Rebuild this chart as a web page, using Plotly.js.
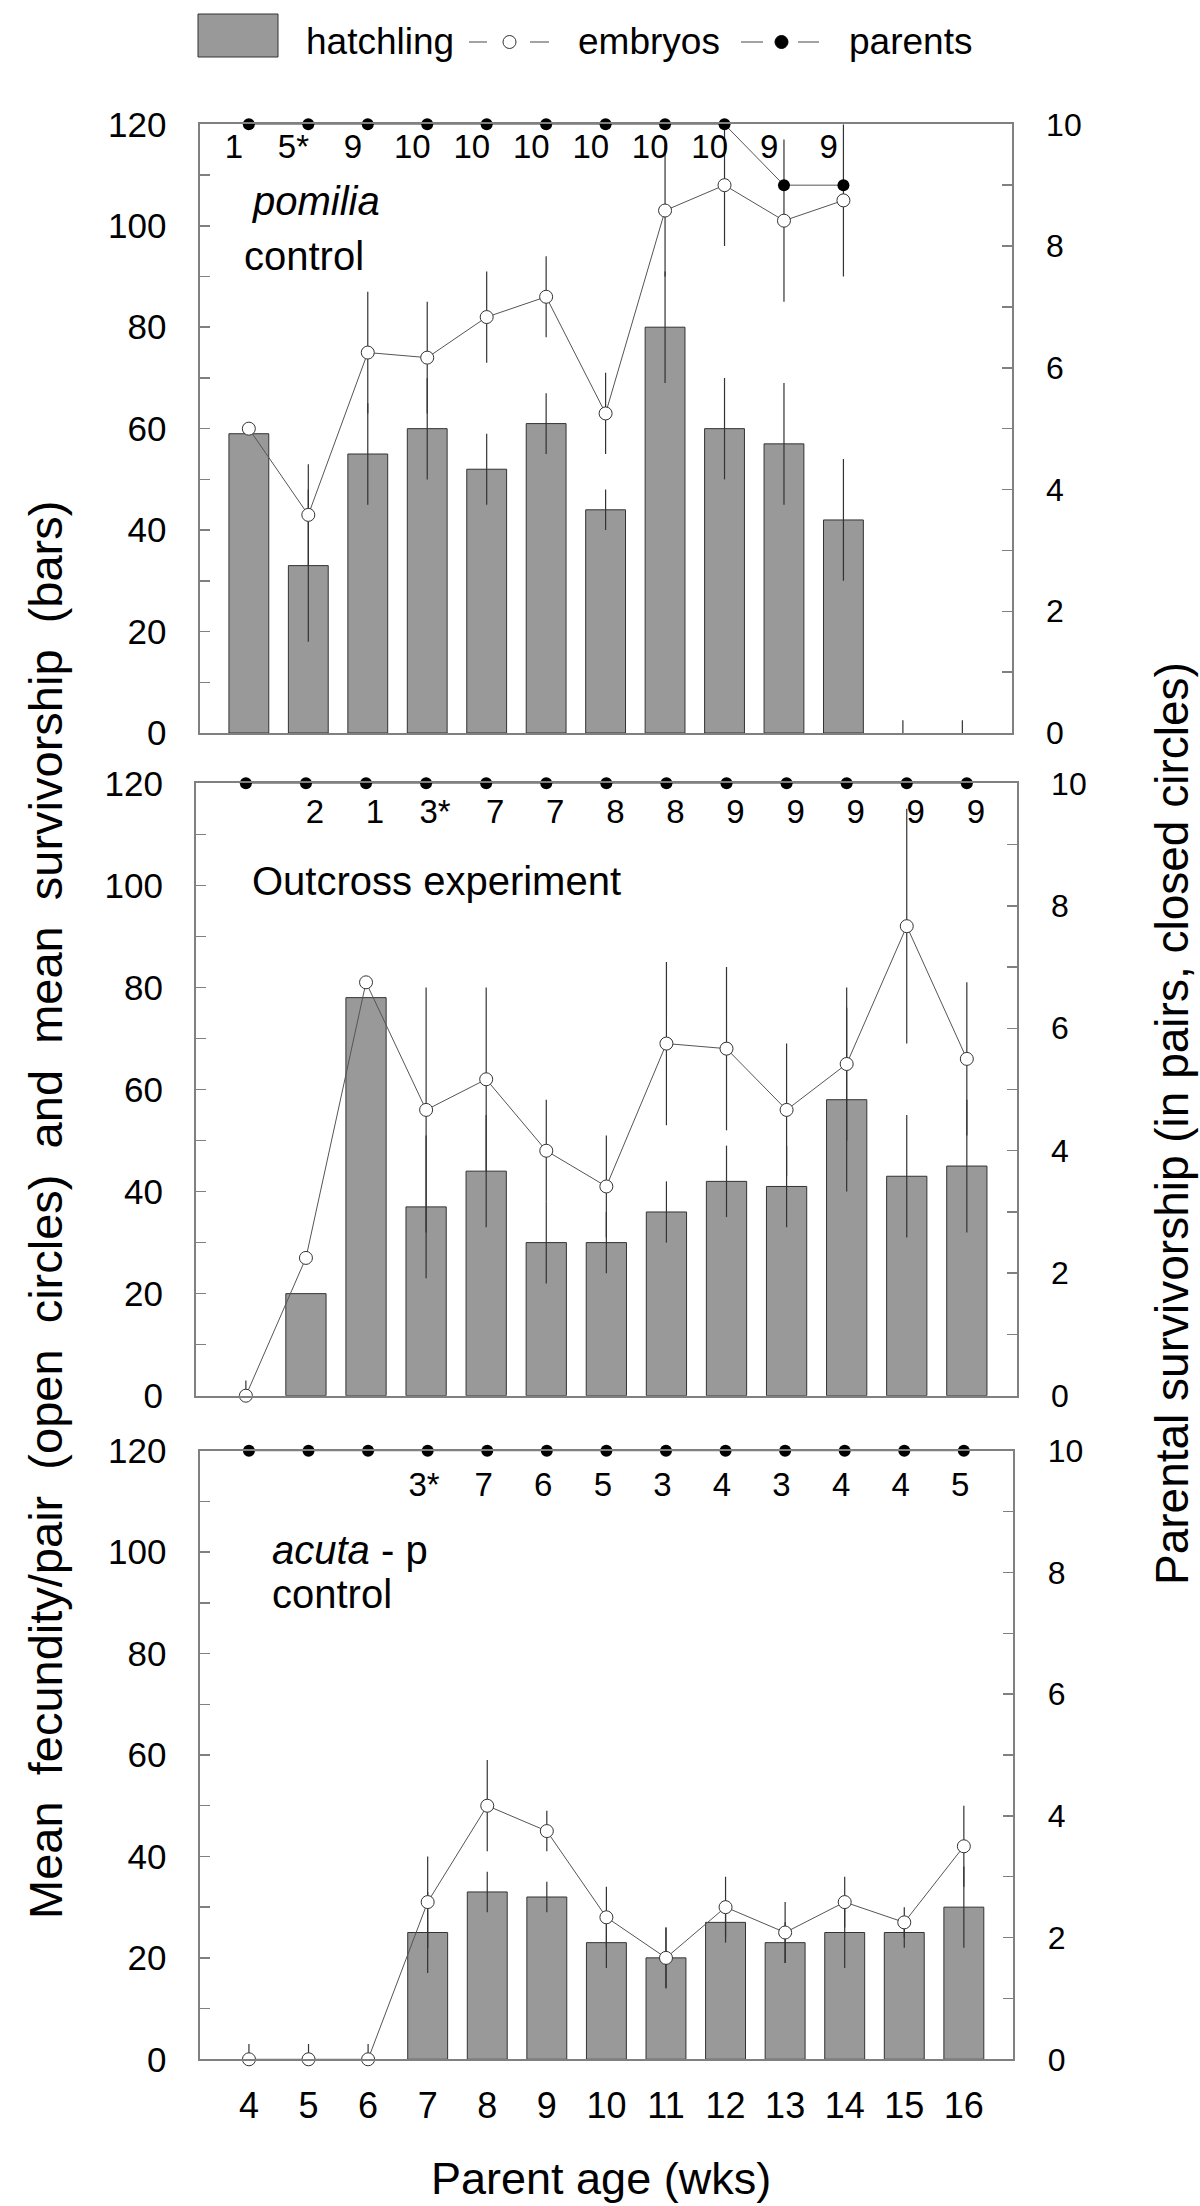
<!DOCTYPE html>
<html>
<head>
<meta charset="utf-8">
<script src="https://cdn.plot.ly/plotly-3.0.1.min.js"></script>
<style>html,body{margin:0;padding:0;background:#fff;}#chart{width:1200px;height:2206px;}</style>
</head>
<body>
<div id="chart"></div>
<script>
// ---------- DATA ----------
const weeks = [4, 5, 6, 7, 8, 9, 10, 11, 12, 13, 14, 15, 16];

// Panel 1: pomilia control
const p1Hatch      = [59, 33, 55, 60, 52, 61, 44, 80, 60, 57, 42, 0, 0];
const p1HatchErr   = [0, 15, 10, 10, 7, 6, 4, 11, 10, 12, 12, 2.5, 2.5];
const p1Embryo     = [60, 43, 75, 74, 82, 86, 63, 103, 108, 101, 105, null, null];
const p1EmbryoErr  = [0, 10, 12, 11, 9, 8, 8, 13, 12, 16, 15, null, null];
const p1Parents    = [10, 10, 10, 10, 10, 10, 10, 10, 10, 9, 9, null, null];
const p1ParentLbl  = ['1', '5*', '9', '10', '10', '10', '10', '10', '10', '9', '9', '', ''];

// Panel 2: Outcross experiment
const p2Hatch      = [null, 20, 78, 37, 44, 30, 30, 36, 42, 41, 58, 43, 45];
const p2HatchErr   = [0, 0, 0, 14, 11, 8, 6, 6, 7, 8, 18, 12, 13];
const p2Embryo     = [0, 27, 81, 56, 62, 48, 41, 69, 68, 56, 65, 92, 66];
const p2EmbryoErr  = [3, 0, 0, 24, 18, 10, 10, 16, 16, 13, 15, 23, 15];
const p2Parents    = [10, 10, 10, 10, 10, 10, 10, 10, 10, 10, 10, 10, 10];
const p2ParentLbl  = ['', '2', '1', '3*', '7', '7', '8', '8', '9', '9', '9', '9', '9'];

// Panel 3: acuta - p control
const p3Hatch      = [null, null, null, 25, 33, 32, 23, 20, 27, 23, 25, 25, 30];
const p3HatchErr   = [0, 0, 0, 8, 4, 3, 5, 6, 4, 4, 7, 3, 8];
const p3Embryo     = [0, 0, 0, 31, 50, 45, 28, 20, 30, 25, 31, 27, 42];
const p3EmbryoErr  = [3, 3, 3, 9, 9, 4, 6, 6, 6, 6, 5, 3, 8];
const p3Parents    = [10, 10, 10, 10, 10, 10, 10, 10, 10, 10, 10, 10, 10];
const p3ParentLbl  = ['', '', '', '3*', '7', '6', '5', '3', '4', '3', '4', '4', '5'];

const yTickVals = [0, 20, 40, 60, 80, 100, 120];
const y2TickVals = [0, 2, 4, 6, 8, 10];

// ---------- STYLE / LAYOUT ----------
const W = 1200, H = 2206;
const FONT = 'Liberation Sans, Arial, sans-serif';
const AX = '#808080';
const px = x => x / W;
const py = y => 1 - y / H;

const panels = [
  {hatch: p1Hatch, herr: p1HatchErr, emb: p1Embryo, eerr: p1EmbryoErr, par: p1Parents, lbl: p1ParentLbl,
   xl: 199.5, xr: 1011.7, yt: 124.3, yb: 733, lblY: 114.9, lblDx: -0.25},
  {hatch: p2Hatch, herr: p2HatchErr, emb: p2Embryo, eerr: p2EmbryoErr, par: p2Parents, lbl: p2ParentLbl,
   xl: 196, xr: 1016.7, yt: 783.3, yb: 1395.7, lblY: 113.9, lblDx: 0.15},
  {hatch: p3Hatch, herr: p3HatchErr, emb: p3Embryo, eerr: p3EmbryoErr, par: p3Parents, lbl: p3ParentLbl,
   xl: 199.5, xr: 1013.3, yt: 1450.7, yb: 2059.3, lblY: 112.7, lblDx: -0.06}
];

const traces = [];
const layout = {
  width: W, height: H, autosize: false,
  margin: {l: 0, r: 0, t: 0, b: 0},
  paper_bgcolor: '#fff', plot_bgcolor: 'rgba(0,0,0,0)',
  showlegend: false,
  font: {family: FONT, color: '#000'},
  shapes: [], annotations: []
};

const minusOf = (vals, errs) => errs.map((e, i) => (vals[i] == null ? 0 : Math.min(e || 0, vals[i])));

panels.forEach((p, i) => {
  const xn = i === 0 ? 'x' : 'x' + (i + 1);
  const yl = 'y' + (i === 0 ? '' : (2 * i + 1));
  const yr = 'y' + (2 * i + 2);
  const xKey = i === 0 ? 'xaxis' : 'xaxis' + (i + 1);
  const ylKey = i === 0 ? 'yaxis' : 'yaxis' + (2 * i + 1);
  const yrKey = 'yaxis' + (2 * i + 2);
  const ylName = i === 0 ? 'y' : 'y' + (2 * i + 1);
  const dom = [py(p.yb), py(p.yt)];

  layout[xKey] = {
    domain: [px(p.xl), px(p.xr)], range: [3.17, 16.83], anchor: ylName,
    showline: true, mirror: true, linecolor: AX, linewidth: 2,
    showgrid: false, zeroline: false, ticks: '',
    tickmode: 'array', tickvals: weeks, ticktext: weeks.map(String),
    showticklabels: i === 2, tickfont: {size: 36, family: FONT}, ticklabelstandoff: 13,
    fixedrange: true
  };
  layout[ylKey] = {
    domain: dom, range: [0, 120], anchor: xn,
    showline: true, linecolor: AX, linewidth: 2,
    showgrid: false, zeroline: false,
    ticks: 'inside', ticklen: 10, tickwidth: 1.5, tickcolor: AX,
    tickmode: 'array', tickvals: yTickVals,
    minor: {dtick: 10, tick0: 0, ticks: 'inside', ticklen: 10, tickwidth: 1.5, tickcolor: AX, showgrid: false},
    tickfont: {size: 35, family: FONT}, ticklabelstandoff: 24, fixedrange: true
  };
  layout[yrKey] = {
    domain: dom, range: [0, 10], anchor: xn, overlaying: ylName, side: 'right',
    showline: true, linecolor: AX, linewidth: 2,
    showgrid: false, zeroline: false,
    ticks: 'inside', ticklen: 10, tickwidth: 1.5, tickcolor: AX,
    tickmode: 'array', tickvals: y2TickVals,
    minor: {dtick: 1, tick0: 0, ticks: 'inside', ticklen: 10, tickwidth: 1.5, tickcolor: AX, showgrid: false},
    tickfont: {size: 32, family: FONT}, ticklabelstandoff: 26, fixedrange: true
  };

  traces.push({
    type: 'bar', x: weeks, y: p.hatch, width: 0.67, xaxis: xn, yaxis: yl,
    marker: {color: '#999999', line: {color: '#333333', width: p.hatch.map(v => (v ? 1 : 0))}},
    error_y: {type: 'data', symmetric: false, array: p.herr, arrayminus: minusOf(p.hatch, p.herr),
              color: '#333333', thickness: 1.2, width: 0},
    hoverinfo: 'skip'
  });
  traces.push({
    type: 'scatter', mode: 'lines+markers', x: weeks, y: p.emb, xaxis: xn, yaxis: yl,
    line: {color: '#555555', width: 1},
    marker: {symbol: 'circle', size: 13, color: '#ffffff', line: {color: '#333333', width: 1}},
    error_y: {type: 'data', symmetric: false, array: p.eerr, arrayminus: minusOf(p.emb, p.eerr),
              color: '#333333', thickness: 1.2, width: 0},
    cliponaxis: false, hoverinfo: 'skip'
  });
  traces.push({
    type: 'scatter', mode: 'lines+markers', x: weeks, y: p.par, xaxis: xn, yaxis: yr,
    line: {color: '#555555', width: 1},
    marker: {symbol: 'circle', size: 12, color: '#000000'},
    cliponaxis: false, hoverinfo: 'skip'
  });
  traces.push({
    type: 'scatter', mode: 'text', x: weeks.map(w => w + p.lblDx), y: weeks.map(() => p.lblY),
    text: p.lbl, textposition: 'middle center', textfont: {size: 33, family: FONT, color: '#000'},
    xaxis: xn, yaxis: yl, cliponaxis: false, hoverinfo: 'skip'
  });
});

// ---------- Legend (drawn manually) ----------
const LY = 42;
layout.shapes.push(
  {type: 'rect', xref: 'paper', yref: 'paper', x0: px(198), x1: px(278), y0: py(57), y1: py(14),
   fillcolor: '#999999', line: {color: '#333333', width: 1}},
  {type: 'line', xref: 'paper', yref: 'paper', x0: px(469), x1: px(487), y0: py(LY), y1: py(LY), line: {color: '#666', width: 1.2}},
  {type: 'circle', xref: 'paper', yref: 'paper', x0: px(503), x1: px(516), y0: py(LY + 6.5), y1: py(LY - 6.5),
   fillcolor: '#fff', line: {color: '#333', width: 1}},
  {type: 'line', xref: 'paper', yref: 'paper', x0: px(530), x1: px(549), y0: py(LY), y1: py(LY), line: {color: '#666', width: 1.2}},
  {type: 'line', xref: 'paper', yref: 'paper', x0: px(741), x1: px(763), y0: py(LY), y1: py(LY), line: {color: '#666', width: 1.2}},
  {type: 'circle', xref: 'paper', yref: 'paper', x0: px(775), x1: px(788), y0: py(LY + 6.5), y1: py(LY - 6.5),
   fillcolor: '#000', line: {color: '#000', width: 1}},
  {type: 'line', xref: 'paper', yref: 'paper', x0: px(798), x1: px(819), y0: py(LY), y1: py(LY), line: {color: '#666', width: 1.2}}
);
const legendText = [['hatchling', 304], ['embryos', 576], ['parents', 847]];
legendText.forEach(([t, x]) => layout.annotations.push({
  xref: 'paper', yref: 'paper', x: px(x), y: py(LY), xanchor: 'left', yanchor: 'middle',
  text: t, showarrow: false, font: {size: 37, family: FONT, color: '#000'}
}));

// ---------- Panel texts ----------
const panelText = [
  ['<i>pomilia</i>', 250, 201],
  ['control', 242, 256],
  ['Outcross experiment', 250, 881],
  ['<i>acuta</i> - p', 270, 1550],
  ['control', 270, 1594]
];
panelText.forEach(([t, x, y]) => layout.annotations.push({
  xref: 'paper', yref: 'paper', x: px(x), y: py(y), xanchor: 'left', yanchor: 'middle',
  text: t, showarrow: false, font: {size: 40, family: FONT, color: '#000'}
}));

// ---------- Axis titles ----------
const NB = '\u00A0\u00A0';
layout.annotations.push(
  {xref: 'paper', yref: 'paper', x: px(45), y: py(1210), xanchor: 'center', yanchor: 'middle', textangle: -90,
   text: ['Mean', 'fecundity/pair', '(open', 'circles)', 'and', 'mean', 'survivorship', '(bars)'].join(NB),
   showarrow: false, font: {size: 47, family: FONT, color: '#000'}},
  {xref: 'paper', yref: 'paper', x: px(1172), y: py(1124), xanchor: 'center', yanchor: 'middle', textangle: -90,
   text: 'Parental survivorship (in pairs, closed circles)',
   showarrow: false, font: {size: 46, family: FONT, color: '#000'}},
  {xref: 'paper', yref: 'paper', x: px(601), y: py(2178), xanchor: 'center', yanchor: 'middle',
   text: 'Parent age (wks)', showarrow: false, font: {size: 45, family: FONT, color: '#000'}}
);

Plotly.newPlot('chart', traces, layout, {staticPlot: true, displayModeBar: false});
</script>
</body>
</html>
